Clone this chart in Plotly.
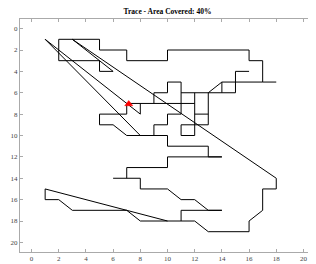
import plotly.graph_objects as go

# Trace strokes (grid coordinates), each a list of (x, y) visits
strokes = [
    [(2, 3), (2, 1), (5, 1), (5, 2), (7, 2), (7, 3), (10, 3), (10, 2), (16, 2), (16, 3), (17, 3), (17, 5), (18, 5)],
    [(17, 5), (14, 5), (13, 6), (15, 6), (15, 4), (16, 4)],
    [(14, 5), (14, 6)],
    [(2, 3), (5, 3), (5, 4), (6, 4), (3, 1), (18, 14), (18, 15), (17, 15), (17, 17), (16, 18), (16, 19),
     (13, 19), (12, 18), (8, 18), (7, 17), (3, 17), (2, 16), (1, 16), (1, 15), (10, 18)],
    [(1, 1), (8, 8), (8, 7)],
    [(1, 1), (8, 10)],
    [(7, 8), (7, 7), (12, 7)],
    [(7, 8), (5, 8), (5, 9), (6, 9), (7, 10), (10, 10), (10, 11), (13, 11), (13, 12), (14, 12),
     (10, 12), (10, 13), (7, 13), (7, 14)],
    [(6, 14), (8, 14), (8, 15), (10, 15), (11, 16), (12, 16), (13, 17), (14, 17), (11, 17), (11, 18)],
    [(9, 10), (9, 9), (10, 9), (10, 8), (11, 8), (11, 5), (10, 5), (10, 6), (9, 6), (9, 7)],
    [(11, 6), (13, 6), (13, 9), (11, 9), (11, 10), (12, 10), (12, 6)],
    [(12, 8), (13, 8)],
]

current_x = [7.15]
current_y = [7.05]

title_text = "Trace - Area Covered: 40%"
tick_vals = list(range(0, 21, 2))

path_x, path_y = [], []
for s in strokes:
    for (px, py) in s:
        path_x.append(px)
        path_y.append(py)
    path_x.append(None)
    path_y.append(None)

fig = go.Figure()
fig.add_trace(go.Scatter(x=path_x, y=path_y, mode="lines",
                         line=dict(color="black", width=1), connectgaps=False,
                         hoverinfo="skip", showlegend=False))
fig.add_trace(go.Scatter(x=current_x, y=current_y, mode="markers",
                         marker=dict(symbol="triangle-up", size=7, color="red",
                                     line=dict(color="red", width=0.5)),
                         showlegend=False))

axis_common = dict(
    showgrid=False, zeroline=False, showline=True, linecolor="#aaaaaa", linewidth=1,
    mirror="ticks", ticks="inside", ticklen=3, tickcolor="#aaaaaa",
    tickvals=tick_vals, automargin=False,
    tickfont=dict(family="Liberation Serif", size=7, color="#444444"),
)

# page body has an 8px margin; figure sized so it sits where the reference chart does
fig.update_layout(
    width=308, height=256,
    margin=dict(l=12, r=1, t=11, b=12, autoexpand=False),
    paper_bgcolor="white", plot_bgcolor="white",
    title=dict(text="<b>" + title_text + "</b>", x=0.5, xref="paper", y=1 - 3.5 / 256,
               yanchor="middle", xanchor="center", automargin=False,
               font=dict(family="Liberation Serif", size=7.5, color="black")),
    xaxis=dict(range=[-0.85, 20.85], **axis_common),
    yaxis=dict(range=[20.9, -0.9], **axis_common),
)

fig.write_html("out.html")
